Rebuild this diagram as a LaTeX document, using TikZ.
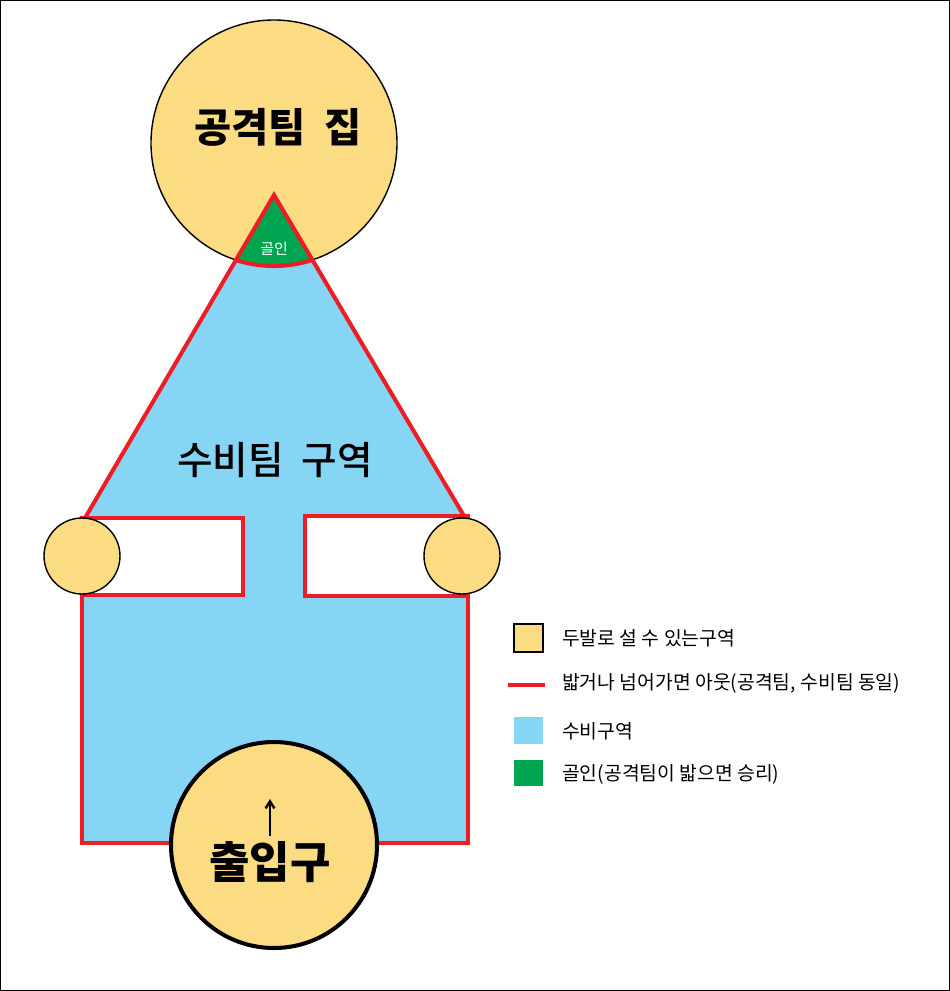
\documentclass[tikz,border=0pt]{standalone}
\usepackage{fontspec}
\setmainfont{Noto Sans CJK KR}
\newfontfamily\krmedium{Noto Sans CJK KR Medium}
\usepackage{xcolor}
\usetikzlibrary{arrows.meta}
\definecolor{homeyellow}{HTML}{FCDC83}
\definecolor{zoneblue}{HTML}{87D5F5}
\definecolor{goalgreen}{HTML}{00A550}
\definecolor{outred}{HTML}{EE1C25}
\tikzset{
  outline/.style={draw=outred, line width=2.3pt},
  safe/.style={fill=homeyellow, draw=black, line width=0.8pt},
  legendtext/.style={anchor=west, font=\fontsize{11}{13}\selectfont},
}
\begin{document}
\begin{tikzpicture}[x=0.02cm, y=-0.02cm]
        \useasboundingbox (0,0) rectangle (950,991);
        \draw[line width=0.6pt] (0.5,0.5) rectangle (949.5,990.5);

        % home circle
        \draw[safe] (274,143) circle (123);
        \node at (278,127) {\fontsize{23}{26}\selectfont\bfseries 공격팀\ \ 집};

        % defence zone
        \fill[zoneblue] (274,195) -- (85,518) -- (82,518) -- (82,843) -- (468,843) -- (468,516) -- (464,516) -- cycle;
        \begin{scope}
            \clip (274,143) circle (123);
            \fill[goalgreen] (274,195) -- (85,518) -- (464,516) -- cycle;
        \end{scope}
        \begin{scope}
            \clip (274,195) -- (85,518) -- (464,516) -- cycle;
            \draw[outline] (274,143) circle (123);
        \end{scope}
        \draw[outline, line join=miter] (85,518) -- (274,195) -- (464,516);
        \node at (274,249) {\color{white}\fontsize{8.5}{10}\selectfont 골인};
        \node at (275,460) {\fontsize{22}{26}\selectfont\krmedium 수비팀\ \ 구역};

        % white boxes
        \draw[outline, fill=white] (82,518) rectangle (243,595);
        \draw[outline, fill=white] (305,516) rectangle (468,596);
        \draw[outline] (82,595) -- (82,843) -- (175,843);
        \draw[outline] (373,843) -- (468,843) -- (468,596);

        % side circles
        \draw[safe] (82,556) circle (38);
        \draw[safe] (462,556) circle (38);

        % entrance
        \draw[safe, line width=2.3pt] (274,845) circle (103);
        \coordinate (arrowfoot) at (270,836);
        \coordinate (arrowhead) at (270,799);
        \draw[-{Straight Barb[length=4pt,width=5pt]}, line width=1.4pt] (arrowfoot) -- (arrowhead);
        \node at (270,862) {\fontsize{25}{28}\selectfont\bfseries 출입구};

        % legend
        \draw[fill=homeyellow, draw=black, line width=0.8pt] (514,624) rectangle (543,652);
        \node[legendtext] at (556,638) {두발로 설 수 있는구역};
        \draw[outred, line width=2.3pt] (508,685) -- (545,685);
        \node[legendtext] at (556,683) {밟거나 넘어가면 아웃(공격팀, 수비팀 동일)};
        \fill[zoneblue] (514,717) rectangle (543,744);
        \node[legendtext] at (556,731) {수비구역};
        \fill[goalgreen] (514,760) rectangle (543,786);
        \node[legendtext] at (556,774) {골인(공격팀이 밟으면 승리)};
    \end{tikzpicture}
\end{document}
